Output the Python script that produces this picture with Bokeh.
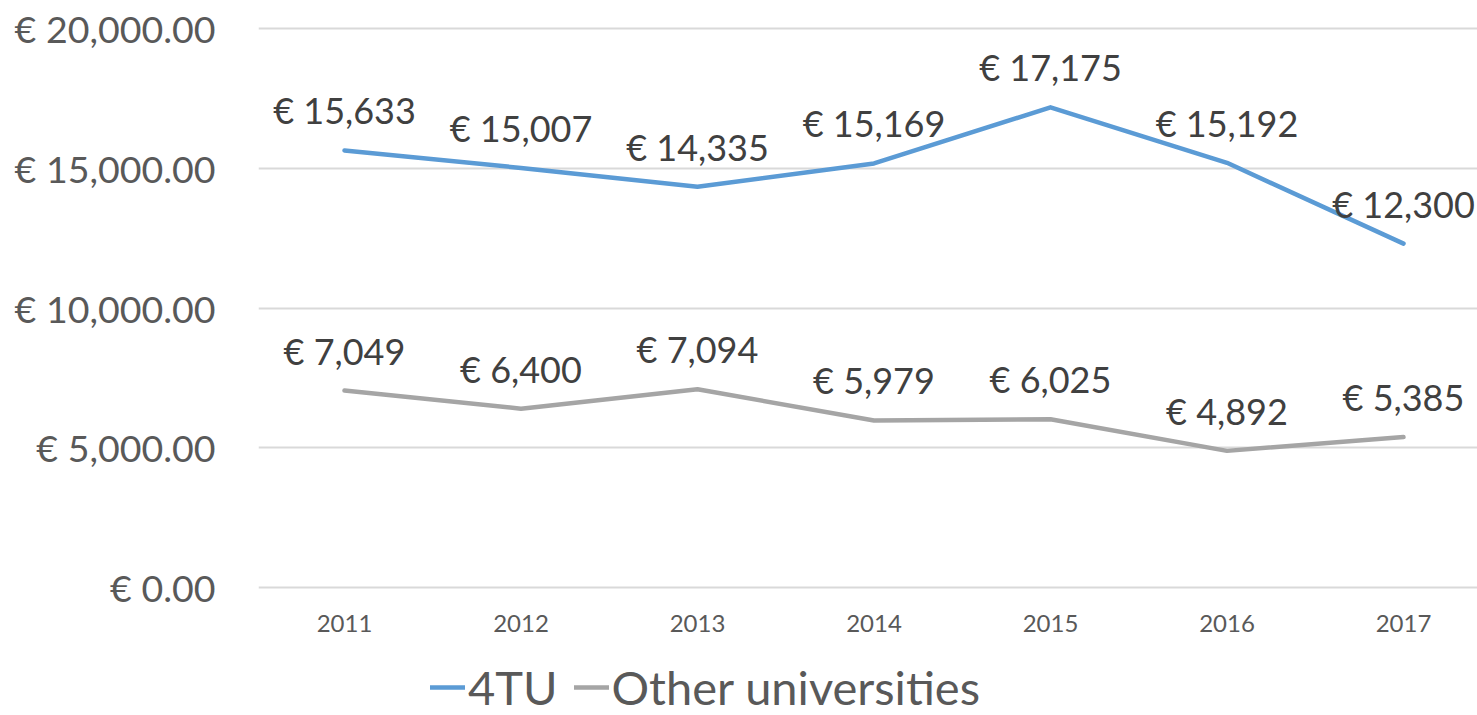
from bokeh.plotting import figure
from bokeh.layouts import column
from bokeh.models import ColumnDataSource, Range1d, FixedTicker, Legend, LegendItem, LabelSet
from bokeh.core.properties import value
from bokeh.embed import file_html
from bokeh.resources import INLINE

years = [2011, 2012, 2013, 2014, 2015, 2016, 2017]
tu4 = [15633, 15007, 14335, 15169, 17175, 15192, 12300]
other = [7049, 6400, 7094, 5979, 6025, 4892, 5385]
series_names = ["4TU", "Other universities"]
y_ticks = [0, 5000, 10000, 15000, 20000]
y_tick_labels = ["€ 0.00", "€ 5,000.00", "€ 10,000.00", "€ 15,000.00", "€ 20,000.00"]

FONT = "Lato"
BLUE = "#5B9BD5"
GREY = "#A5A5A5"
LINE_KW = dict(line_width=4.5, line_cap="round", line_join="round")

def eur(v):
    return "€ {:,}".format(v)

src1 = ColumnDataSource(dict(x=years, y=tu4, lab=[eur(v) for v in tu4]))
src2 = ColumnDataSource(dict(x=years, y=other, lab=[eur(v) for v in other]))

p = figure(width=1477, height=645, output_backend="svg", toolbar_location=None,
           x_range=Range1d(2011 - 86 / 176.5, 2017 + 74 / 176.5),
           y_range=Range1d(-100, 20100),
           min_border_left=258, min_border_right=0, min_border_top=25, min_border_bottom=55)
p.outline_line_color = None
p.background_fill_color = "white"
p.border_fill_color = "white"

p.line("x", "y", source=src1, line_color=BLUE, **LINE_KW)
p.line("x", "y", source=src2, line_color=GREY, **LINE_KW)

for src in (src1, src2):
    p.add_layout(LabelSet(x="x", y="y", text="lab", source=src, y_offset=40,
                          text_align="center", text_baseline="middle",
                          text_font=value(FONT), text_font_size=value("36px"), text_color="#404040"))

p.xgrid.grid_line_color = None
p.ygrid.grid_line_color = "#D9D9D9"
p.ygrid.grid_line_width = 2
p.yaxis.ticker = FixedTicker(ticks=y_ticks)
p.yaxis.major_label_overrides = dict(zip(y_ticks, y_tick_labels))
p.xaxis.ticker = FixedTicker(ticks=years)
p.xaxis.major_label_overrides = {y: str(y) for y in years}

for ax in (p.xaxis, p.yaxis):
    ax.axis_line_color = None
    ax.major_tick_line_color = None
    ax.minor_tick_line_color = None
    ax.major_label_text_font = FONT
    ax.major_label_text_color = "#595959"
p.yaxis.major_label_text_font_size = "37.5px"
p.yaxis.major_label_standoff = 37
p.xaxis.major_label_text_font_size = "24px"
p.xaxis.major_label_standoff = 18

# legend strip below the chart (series lines drawn outside its view, used only for legend glyphs)
leg = figure(width=1477, height=70, output_backend="svg", toolbar_location=None,
             x_range=Range1d(-10, -9), y_range=Range1d(-10, -9),
             min_border=0, min_border_left=258, min_border_right=0, min_border_top=0, min_border_bottom=0)
leg.axis.visible = False
leg.grid.visible = False
leg.outline_line_color = None
l1 = leg.line("x", "y", source=src1, line_color=BLUE, **LINE_KW)
l2 = leg.line("x", "y", source=src2, line_color=GREY, **LINE_KW)

legend = Legend(items=[LegendItem(label=series_names[0], renderers=[l1]),
                       LegendItem(label=series_names[1], renderers=[l2])],
                orientation="horizontal", location=(172, 0),
                label_text_font=FONT, label_text_font_size="47px", label_text_color="#595959",
                glyph_width=35, glyph_height=30, label_standoff=3, spacing=16,
                padding=0, margin=0, border_line_color=None, background_fill_alpha=0)
leg.add_layout(legend, "center")

open("out.html", "w").write(file_html(column(p, leg, spacing=0), INLINE))
